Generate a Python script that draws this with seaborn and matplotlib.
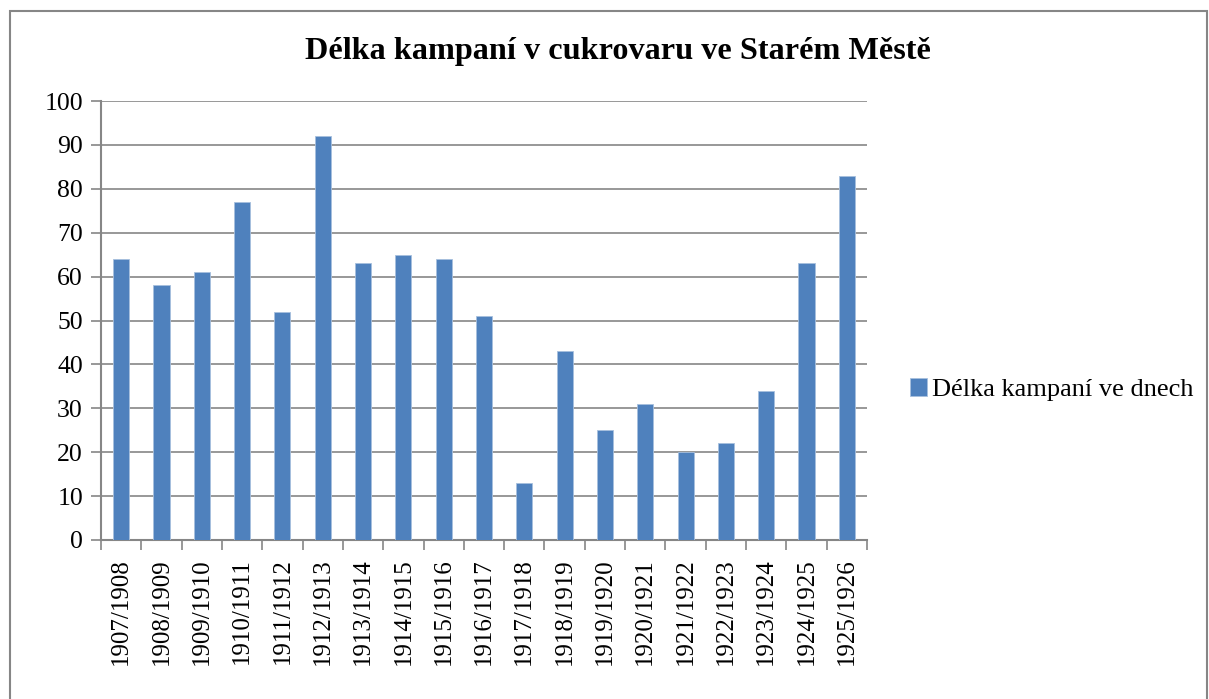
import matplotlib
matplotlib.use("Agg")
import matplotlib.pyplot as plt
import seaborn as sns
import pandas as pd
from matplotlib.patches import Rectangle
from matplotlib.ticker import FixedLocator

seasons = ["1907/1908", "1908/1909", "1909/1910", "1910/1911", "1911/1912",
           "1912/1913", "1913/1914", "1914/1915", "1915/1916", "1916/1917",
           "1917/1918", "1918/1919", "1919/1920", "1920/1921", "1921/1922",
           "1922/1923", "1923/1924", "1924/1925", "1925/1926"]
days = [64, 58, 61, 77, 52, 92, 63, 65, 64, 51, 13, 43, 25, 31, 20, 22, 34, 63, 83]
series_name = "Délka kampaní ve dnech"
title = "Délka kampaní v cukrovaru ve Starém Městě"
yticks = [0, 10, 20, 30, 40, 50, 60, 70, 80, 90, 100]

sns.set_theme(style="white")
plt.rcParams['font.family'] = ['Liberation Serif', 'DejaVu Serif']
plt.rcParams['text.color'] = 'black'
plt.rcParams['xtick.labelcolor'] = 'black'
plt.rcParams['ytick.labelcolor'] = 'black'

df = pd.DataFrame({"season": seasons, "days": days, "series": series_name})

fig = plt.figure(figsize=(12.09, 6.99), dpi=100)
ax = fig.add_axes([101/1209, 1-540/699, (867-101)/1209, (540-101)/699])

grid_c = "#868686"
bar_c = "#4F81BD"

sns.barplot(data=df, x="season", y="days", hue="series", palette=[bar_c],
            width=0.4, ax=ax, saturation=1, edgecolor="#A7C0DE", linewidth=0.6,
            zorder=3)

ax.set_xlim(-0.5, len(seasons) - 0.5)
ax.set_ylim(0, 100)
ax.set_yticks(yticks)
ax.set_yticklabels([str(t) for t in yticks], fontsize=18.5, color="black")
ax.yaxis.grid(True, color=grid_c, linewidth=1.2, zorder=0)
ax.set_axisbelow(True)
ax.set_xlabel("")
ax.set_ylabel("")

ax.set_xticks(range(len(seasons)))
ax.set_xticklabels(seasons, rotation=90, fontsize=18, color="black")
ax.tick_params(axis="x", which="major", length=0, pad=13)
ax.xaxis.set_minor_locator(FixedLocator([i - 0.5 for i in range(len(seasons) + 1)]))
ax.tick_params(axis="x", which="minor", length=7, width=1.2, color=grid_c, direction="out", bottom=True)
ax.tick_params(axis="y", which="major", length=7, width=1.2, color=grid_c, direction="out", left=True, pad=6)

for s in ["top", "right"]:
    ax.spines[s].set_visible(False)
for s in ["left", "bottom"]:
    ax.spines[s].set_color(grid_c)
    ax.spines[s].set_linewidth(1.5)

leg = ax.legend(loc="center left", bbox_to_anchor=(1.043, 0.342), frameon=False,
                fontsize=19, handlelength=0.62, handleheight=0.62, handletextpad=0.2,
                borderaxespad=0)
for t in leg.get_texts():
    t.set_color("black")

fig.text(0.511, 1-52/699, title, ha="center", va="center", fontsize=23.2,
         fontweight="bold", color="black")

fig.patches.append(Rectangle((10/1209, -0.01), (1207-10)/1209, 1-11/699+0.01,
                             transform=fig.transFigure, fill=False,
                             edgecolor=grid_c, linewidth=1.5))

fig.savefig("out.png", dpi=100)
